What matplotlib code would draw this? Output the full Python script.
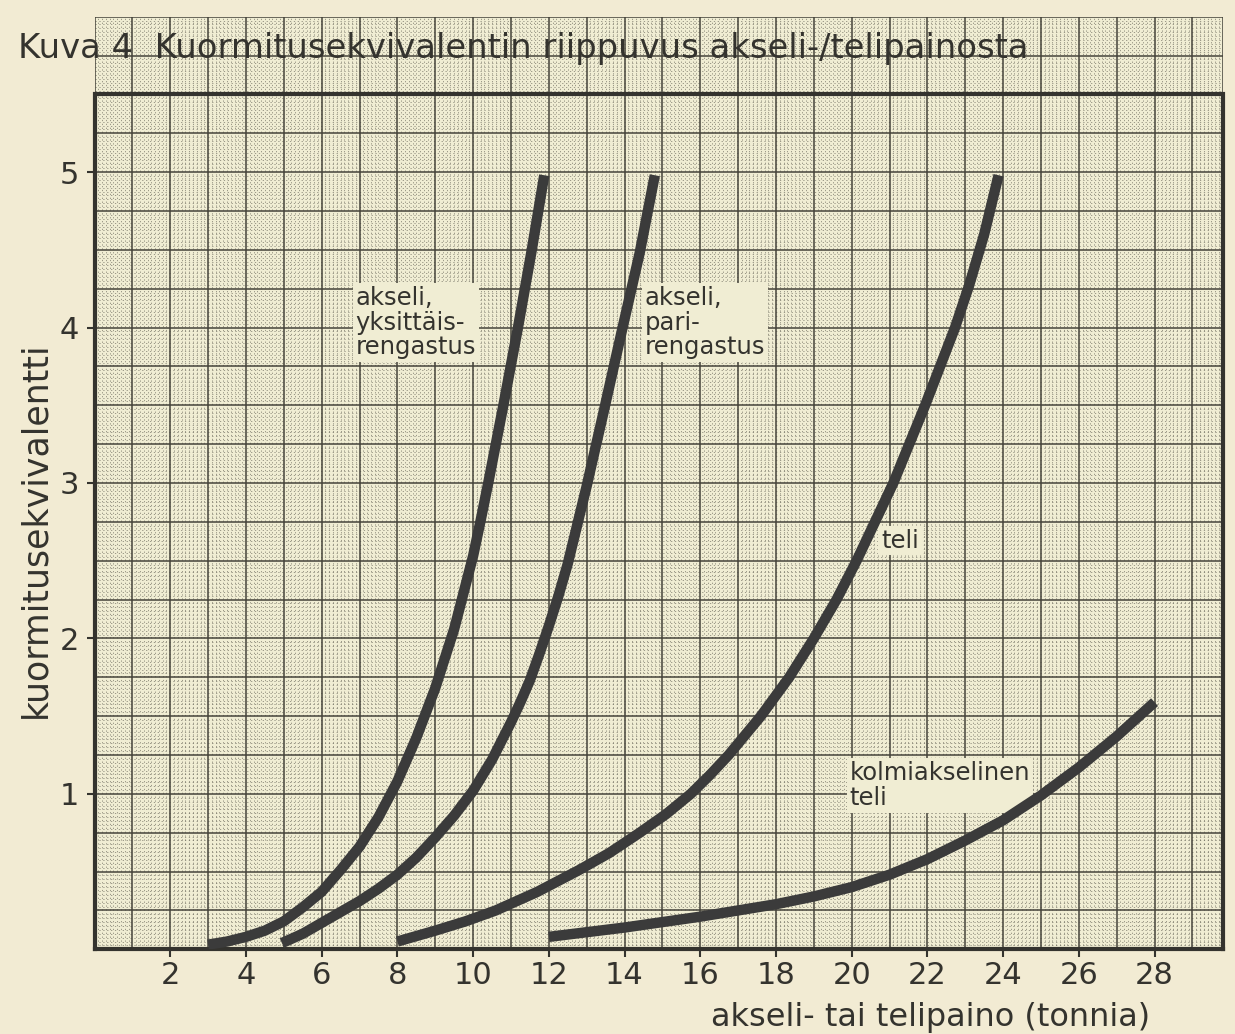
import numpy as np
import matplotlib
matplotlib.use("Agg")
import matplotlib.pyplot as plt
from matplotlib import font_manager

# Curves: x = axle / bogie weight (t), y = load equivalent
yksittais_x = [3.0, 3.5, 4.0, 4.5, 5.0, 5.5, 6.0, 6.5, 7.0, 7.5, 8.0, 8.5, 9.0, 9.5, 10.0, 10.2, 10.4, 10.8, 11.2, 11.55, 11.88]
yksittais_y = [0.03, 0.05, 0.08, 0.12, 0.18, 0.27, 0.37, 0.51, 0.66, 0.85, 1.08, 1.36, 1.68, 2.06, 2.53, 2.76, 3.00, 3.50, 4.02, 4.50, 4.98]

pari_x = [4.95, 5.5, 6.0, 6.5, 7.0, 7.5, 8.0, 8.5, 9.0, 9.5, 10.0, 10.5, 11.0, 11.25, 11.5, 11.75, 12.0, 12.25, 12.5, 13.0, 13.45, 13.93, 14.4, 14.8]
pari_y = [0.04, 0.10, 0.17, 0.24, 0.31, 0.39, 0.48, 0.59, 0.72, 0.86, 1.02, 1.22, 1.46, 1.59, 1.73, 1.90, 2.08, 2.27, 2.48, 2.98, 3.46, 3.98, 4.48, 4.98]

teli_x = [8.0, 9.0, 9.8, 10.6, 11.7, 12.8, 13.6, 14.4, 15.1, 15.75, 16.25, 16.75, 17.6, 18.35, 19.0, 19.6, 20.13, 21.1, 21.94, 22.73, 23.1, 23.5, 23.88]
teli_y = [0.05, 0.12, 0.18, 0.25, 0.37, 0.51, 0.62, 0.75, 0.87, 1.00, 1.12, 1.25, 1.50, 1.75, 2.00, 2.25, 2.50, 3.00, 3.50, 4.00, 4.27, 4.60, 4.98]

kolmi_x = [12.0, 13.0, 14.0, 15.0, 16.0, 17.0, 18.0, 19.0, 20.0, 21.0, 22.0, 23.0, 24.0, 25.0, 26.0, 27.0, 28.0]
kolmi_y = [0.08, 0.11, 0.14, 0.175, 0.21, 0.25, 0.29, 0.34, 0.40, 0.48, 0.58, 0.70, 0.83, 0.99, 1.17, 1.37, 1.59]

x_ticks = [2, 4, 6, 8, 10, 12, 14, 16, 18, 20, 22, 24, 26, 28]
y_ticks = [1, 2, 3, 4, 5]

title = "Kuva 4  Kuormitusekvivalentin riippuvus akseli-/telipainosta"
x_label = "akseli- tai telipaino (tonnia)"
y_label = "kuormitusekvivalentti"

PAPER = "#f2ebd3"
GRID_BG = "#f0edd3"
INK = "#34332e"
GRID = "#45433a"
CURVE = "#3b3b3b"

# narrow lettering if available
names = {f.name for f in font_manager.fontManager.ttflist}
if "Liberation Sans Narrow" in names:
    NARROW = "Liberation Sans Narrow"
    title_size, tick_size = 27, 24
else:
    NARROW = "DejaVu Sans"
    title_size, tick_size = 24.4, 22
plt.rcParams["font.family"] = ["DejaVu Sans"]
plt.rcParams["lines.scale_dashes"] = False

fig = plt.figure(figsize=(12.35, 10.34), dpi=100, facecolor=PAPER)
ax = fig.add_axes([94.5 / 1235, 1 - 949.3 / 1034, (1222.7 - 94.5) / 1235, (949.3 - 16.7) / 1034])
ax.set_facecolor(GRID_BG)
XMAX, YMAX = 29.8, 6.0
ax.set_xlim(0, XMAX)
ax.set_ylim(0, YMAX)

# graph paper: dotted millimetre lines, solid centimetre lines
minor_x = [v for v in np.arange(0, XMAX, 0.1) if abs(v - round(v)) > 0.01]
minor_y = [v for v in np.arange(0, YMAX, 0.025) if abs(v * 4 - round(v * 4)) > 0.01]
ax.vlines(minor_x, 0, YMAX, colors=GRID, linewidth=0.7, linestyles=[(0, (0.9, 1.9))], alpha=0.5, zorder=0.5)
ax.hlines(minor_y, 0, XMAX, colors=GRID, linewidth=0.7, linestyles=[(0, (0.9, 1.9))], alpha=0.5, zorder=0.5)
ax.vlines(np.arange(0, 30), 0, YMAX, colors=GRID, linewidth=1.1, zorder=0.6)
ax.vlines([XMAX], 5.5, YMAX, colors=GRID, linewidth=1.1, zorder=0.6)
ax.hlines(np.arange(0.25, YMAX + 0.01, 0.25), 0, XMAX, colors=GRID, linewidth=1.1, zorder=0.6)

# heavy frame of the actual plot
ax.spines["top"].set_visible(False)
for side in ["left", "right", "bottom"]:
    ax.spines[side].set_linewidth(3)
    ax.spines[side].set_color(INK)
ax.spines["left"].set_bounds(0, 5.5)
ax.spines["right"].set_bounds(0, 5.5)
ax.axhline(5.5, color=INK, linewidth=3, zorder=2)

# curves
for xs, ys in [(yksittais_x, yksittais_y), (pari_x, pari_y), (teli_x, teli_y), (kolmi_x, kolmi_y)]:
    ax.plot(xs, ys, color=CURVE, linewidth=7.5, solid_capstyle="butt",
            solid_joinstyle="round", zorder=4)

box = dict(boxstyle="square,pad=0.12", fc=GRID_BG, ec="none")
ax.text(6.9, 4.27, "akseli,\nyksittäis-\nrengastus", fontsize=17.5, color=INK,
        ha="left", va="top", linespacing=1.05, bbox=box, zorder=3)
ax.text(14.53, 4.27, "akseli,\npari-\nrengastus", fontsize=17.5, color=INK,
        ha="left", va="top", linespacing=1.05, bbox=box, zorder=3)
ax.text(20.78, 2.63, "teli", fontsize=17.5, color=INK,
        ha="left", va="center", bbox=box, zorder=3)
ax.text(19.95, 1.21, "kolmiakselinen\nteli", fontsize=17.5, color=INK,
        ha="left", va="top", linespacing=1.05, bbox=box, zorder=3)

# ticks
ax.set_xticks(x_ticks)
ax.set_xticklabels([str(t) for t in x_ticks], fontfamily=NARROW)
ax.set_yticks(y_ticks)
ax.set_yticklabels([str(t) for t in y_ticks], fontfamily=NARROW)
ax.tick_params(axis="both", direction="out", length=6, width=1.5, color=INK,
               labelcolor=INK, labelsize=tick_size, pad=2.5)
ax.tick_params(axis="y", pad=5)

fig.text(18 / 1235, 1 - 58 / 1034, title, fontsize=title_size, color=INK,
         fontfamily=NARROW, ha="left", va="baseline")
fig.text(931 / 1235, 1 - 1026 / 1034, x_label, fontsize=23, color=INK,
         ha="center", va="baseline")
fig.text(35 / 1235, 1 - 530 / 1034, y_label, fontsize=25, color=INK,
         ha="center", va="center", rotation=90)

fig.savefig("out.png", dpi=100, facecolor=PAPER)
